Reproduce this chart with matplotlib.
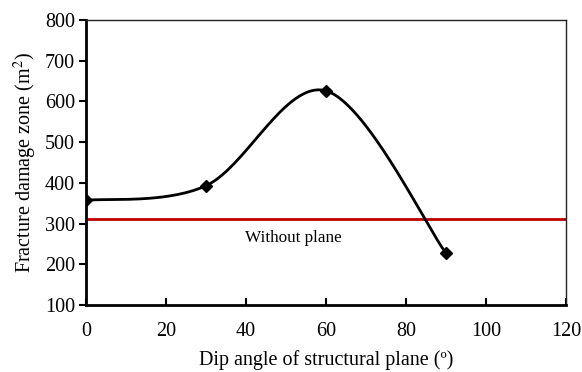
import numpy as np
import matplotlib
matplotlib.use('Agg')
import matplotlib.pyplot as plt

plt.rcParams['font.family'] = ['Liberation Serif', 'DejaVu Serif']
plt.rcParams['mathtext.fontset'] = 'stix'

# data
dip_angle = [0, 30, 60, 90]
damage_zone = [357, 393, 626, 227]
without_plane = 311
x_range = [0, 120]


def smooth(xs, ys, n=60):
    # Catmull-Rom style smoothing (like a spreadsheet smoothed line)
    p = np.column_stack([xs, ys]).astype(float)
    p = np.vstack([p[0], p, p[-1]])
    out = []
    t = np.linspace(0, 1, n)
    for i in range(1, len(p) - 2):
        p0, p1, p2, p3 = p[i - 1], p[i], p[i + 1], p[i + 2]
        c1 = p1 + (p2 - p0) / 6
        c2 = p2 - (p3 - p1) / 6
        seg = ((1 - t) ** 3)[:, None] * p1 + (3 * (1 - t) ** 2 * t)[:, None] * c1 \
            + (3 * (1 - t) * t ** 2)[:, None] * c2 + (t ** 3)[:, None] * p2
        out.append(seg)
    out = np.vstack(out)
    return out[:, 0], out[:, 1]


fig = plt.figure(figsize=(5.82, 3.72), dpi=100)
ax = fig.add_axes([86 / 582, 1 - 305 / 372, 480 / 582, 285 / 372])

ax.plot(x_range, [without_plane, without_plane], color='#C00000', lw=2, zorder=2)
sx, sy = smooth(dip_angle, damage_zone)
ax.plot(sx, sy, color='black', lw=2, zorder=3)
ax.plot(dip_angle, damage_zone, ls='none', marker='D', ms=6.5, color='black', zorder=4)

ax.text(51.8, 265, 'Without plane', fontsize=12.3, ha='center', va='center')

ax.set_xlim(0, 120)
ax.set_ylim(100, 800)
ax.set_xticks(range(0, 121, 20))
ax.set_yticks(range(100, 801, 100))
ax.tick_params(axis='x', direction='in', length=5, width=1.5, labelsize=14.5, pad=12)
ax.tick_params(axis='y', direction='out', length=5, width=1.5, labelsize=14.5, pad=3)

for s in ['left', 'bottom']:
    ax.spines[s].set_linewidth(2)
for s in ['top', 'right']:
    ax.spines[s].set_linewidth(1)
    ax.spines[s].set_color('#222222')

ax.set_xlabel('Dip angle of structural plane (º)', fontsize=14.5, labelpad=7)
ax.set_ylabel('Fracture damage zone (m$^2$)', fontsize=14.5, labelpad=4)

fig.savefig('out.png', dpi=100)
